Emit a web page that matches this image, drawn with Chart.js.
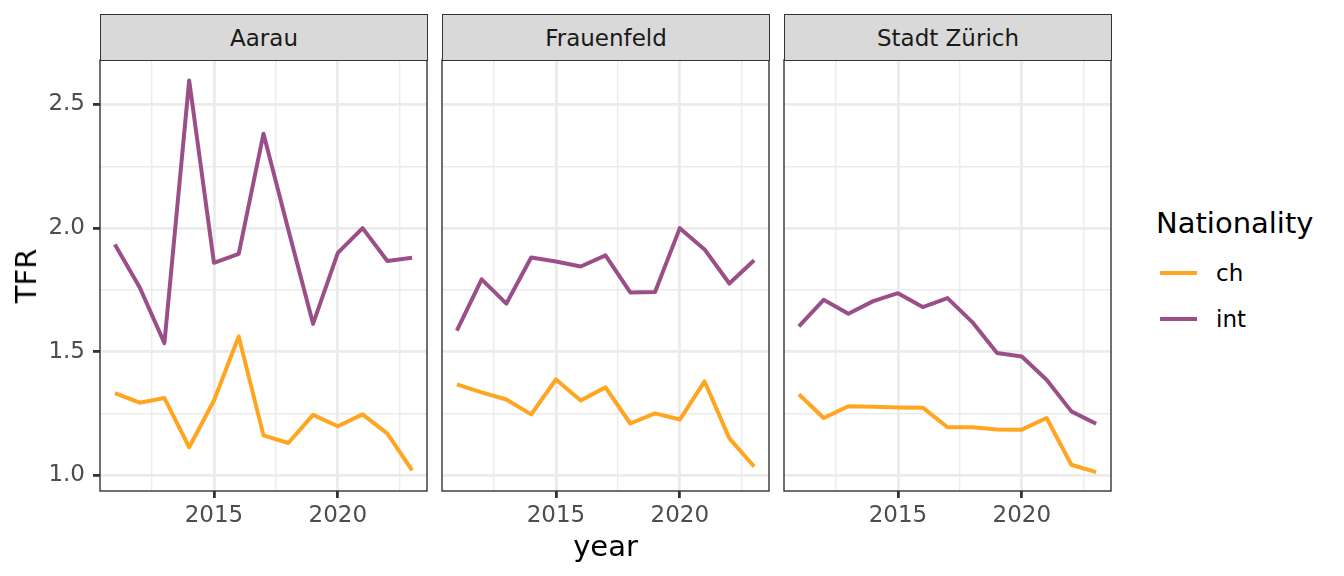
<!DOCTYPE html>
<html>
<head>
<meta charset="utf-8">
<script src="https://cdn.jsdelivr.net/npm/chart.js@4/dist/chart.umd.min.js"></script>
<style>
html,body{margin:0;padding:0;background:#fff;}
body{width:1344px;height:576px;position:relative;overflow:hidden;font-family:"DejaVu Sans",sans-serif;}
.box{position:absolute;}
.strip{position:absolute;top:14px;height:47px;background:#D9D9D9;border:1.4px solid #333333;box-sizing:border-box;color:#1A1A1A;font-size:23px;display:flex;align-items:center;justify-content:center;}
.title{position:absolute;color:#000;font-size:29px;white-space:nowrap;}
.lt{position:absolute;color:#000;font-size:23px;white-space:nowrap;line-height:1;}
.key{position:absolute;height:4px;}
</style>
</head>
<body>
<script>
// ---- data ----
const years = [2011,2012,2013,2014,2015,2016,2017,2018,2019,2020,2021,2022,2023];
const facets = ["Aarau","Frauenfeld","Stadt Zürich"];
const seriesNames = ["ch","int"];
const aarauCh   = [1.333,1.294,1.313,1.114,1.303,1.562,1.162,1.131,1.245,1.199,1.247,1.169,1.020];
const aarauInt  = [1.934,1.761,1.535,2.597,1.860,1.896,2.382,1.995,1.613,1.900,2.000,1.867,1.880];
const frauenCh  = [1.368,1.336,1.307,1.247,1.388,1.303,1.356,1.210,1.251,1.226,1.380,1.150,1.036];
const frauenInt = [1.586,1.793,1.695,1.881,1.865,1.845,1.890,1.740,1.742,2.000,1.914,1.776,1.870];
const zurichCh  = [1.328,1.232,1.280,1.278,1.275,1.274,1.195,1.195,1.186,1.185,1.232,1.043,1.013];
const zurichInt = [1.603,1.710,1.654,1.705,1.737,1.681,1.717,1.620,1.495,1.481,1.387,1.259,1.209];
const yTicks = [1.0,1.25,1.5,1.75,2.0,2.25,2.5];
const yMajor = [1.0,1.5,2.0,2.5];
const xTicks = [2012.5,2015,2017.5,2020,2022.5];
const xMajor = [2015,2020];

const colors = {ch:"#FFA520", int:"#9B4F89"};
const panelData = [[aarauCh,aarauInt],[frauenCh,frauenInt],[zurichCh,zurichInt]];

// ---- layout ----
const panelLefts = [100,442,784];
const W = 327, TOP = 60, H = 431;
const PAD = 4, XH = 60;

const borderPlugin = {
  id:'panelBorder',
  afterDraw(chart){
    const a = chart.chartArea, c = chart.ctx;
    c.save();
    c.strokeStyle = '#333333';
    c.lineWidth = 1.4;
    c.strokeRect(a.left, a.top, a.right-a.left, a.bottom-a.top);
    c.restore();
  }
};

function isMajor(list, v){ return list.some(m => Math.abs(m-v) < 1e-6); }

panelData.forEach((pd, i) => {
  const showY = i === 0;
  const yW = showY ? 100 : 0;
  const box = document.createElement('div');
  box.className = 'box';
  const bw = W + yW + 2*PAD, bh = H + XH + 2*PAD;
  box.style.left = (panelLefts[i] - yW - PAD) + 'px';
  box.style.top = (TOP - PAD) + 'px';
  box.style.width = bw + 'px';
  box.style.height = bh + 'px';
  const cv = document.createElement('canvas');
  box.appendChild(cv);
  document.body.appendChild(box);

  const strip = document.createElement('div');
  strip.className = 'strip';
  strip.style.left = panelLefts[i] + 'px';
  strip.style.width = (W+1) + 'px';
  strip.textContent = facets[i];
  document.body.appendChild(strip);

  new Chart(cv, {
    type:'line',
    data:{
      datasets: seriesNames.map((s, k) => ({
        label: s,
        data: years.map((yr, j) => ({x: yr, y: pd[k][j]})),
        borderColor: colors[s],
        backgroundColor: colors[s],
        borderWidth: 4,
        pointRadius: 0,
        borderJoinStyle: 'round',
        borderCapStyle: 'butt',
        tension: 0,
        fill: false
      }))
    },
    options:{
      responsive:true,
      maintainAspectRatio:false,
      animation:false,
      layout:{padding:PAD},
      plugins:{legend:{display:false}, tooltip:{enabled:false}},
      scales:{
        x:{
          type:'linear', min:2010.4, max:2023.6,
          afterBuildTicks: s => { s.ticks = xTicks.map(v => ({value:v})); },
          afterFit: s => { s.height = XH; s.paddingLeft = 0; s.paddingRight = 0; },
          ticks:{
            autoSkip:false, maxRotation:0, minRotation:0,
            color:'#4D4D4D', font:{family:'DejaVu Sans', size:23}, padding:4,
            callback: v => isMajor(xMajor, v) ? String(v) : ''
          },
          grid:{
            color:'#EBEBEB',
            lineWidth: ctx => (ctx.tick && isMajor(xMajor, ctx.tick.value)) ? 2.8 : 1.4,
            drawTicks:true, tickLength:7, tickWidth:2.8,
            tickColor: ctx => (ctx.tick && isMajor(xMajor, ctx.tick.value)) ? '#333333' : 'rgba(0,0,0,0)'
          },
          border:{display:false}
        },
        y:{
          type:'linear', min:0.937, max:2.68,
          afterBuildTicks: s => { s.ticks = yTicks.map(v => ({value:v})); },
          afterFit: s => { s.width = yW; s.paddingTop = 0; s.paddingBottom = 0; },
          ticks:{
            display: showY,
            autoSkip:false,
            color:'#4D4D4D', font:{family:'DejaVu Sans', size:23}, padding:8,
            callback: v => isMajor(yMajor, v) ? v.toFixed(1) : ''
          },
          grid:{
            color:'#EBEBEB',
            lineWidth: ctx => (ctx.tick && isMajor(yMajor, ctx.tick.value)) ? 2.8 : 1.4,
            drawTicks: showY, tickLength:7, tickWidth:2.8,
            tickColor: ctx => (ctx.tick && isMajor(yMajor, ctx.tick.value)) ? '#333333' : 'rgba(0,0,0,0)'
          },
          border:{display:false}
        }
      }
    },
    plugins:[borderPlugin]
  });
});

// axis titles
function addText(cls, txt, css){
  const d = document.createElement('div');
  d.className = cls; d.textContent = txt;
  Object.assign(d.style, css);
  document.body.appendChild(d);
  return d;
}
addText('title','year',{left:'605.5px', top:'546px', transform:'translate(-50%,-50%)'});
addText('title','TFR',{left:'26px', top:'275.5px', transform:'translate(-50%,-50%) rotate(-90deg)'});

// legend
addText('title','Nationality',{left:'1156px', top:'223px', transform:'translateY(-50%)'});
const keyY = {ch:273, int:319};
seriesNames.forEach(s => {
  const k = document.createElement('div');
  k.className = 'key';
  k.style.left = '1160px'; k.style.width = '37px';
  k.style.top = (keyY[s]-2) + 'px';
  k.style.background = colors[s];
  document.body.appendChild(k);
  addText('lt', s, {left:'1216px', top:keyY[s]+'px', transform:'translateY(-50%)'});
});
</script>
</body>
</html>
